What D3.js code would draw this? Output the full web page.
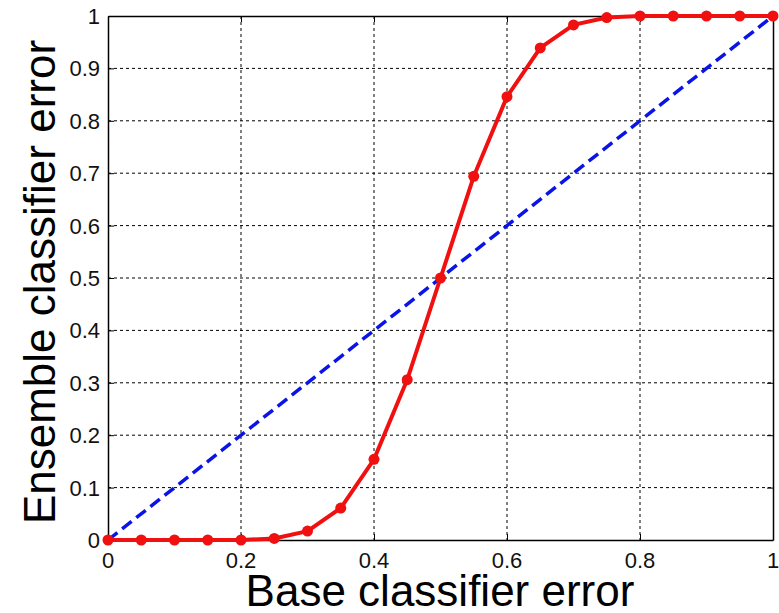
<!DOCTYPE html>
<html><head><meta charset="utf-8">
<script src="https://cdn.jsdelivr.net/npm/d3@7"></script>
<style>body{margin:0;background:#fff}svg{display:block}.lbl{font-family:"Liberation Sans",Arial,sans-serif;font-size:22px;fill:#111}</style>
</head><body>
<svg id="c" width="779" height="613"></svg>
<script>
const baseError = [0,0.05,0.1,0.15,0.2,0.25,0.3,0.35,0.4,0.45,0.5,0.55,0.6,0.65,0.7,0.75,0.8,0.85,0.9,0.95,1];
const ensembleError = [0,0,0,0,0,0.003,0.017,0.061,0.154,0.306,0.5,0.694,0.846,0.939,0.983,0.997,1,1,1,1,1];
const diagonal = [0,1];
const xTicks = [0,0.2,0.4,0.6,0.8,1];
const yTicks = [0,0.1,0.2,0.3,0.4,0.5,0.6,0.7,0.8,0.9,1];
const xTickLabels = ["0","0.2","0.4","0.6","0.8","1"];
const yTickLabels = ["0","0.1","0.2","0.3","0.4","0.5","0.6","0.7","0.8","0.9","1"];

const L=108,R=773,T=16,B=540;
const svg=d3.select("#c");
const x=d3.scaleLinear().domain([0,1]).range([L,R]);
const y=d3.scaleLinear().domain([0,1]).range([B,T]);
const font="Liberation Sans, Arial, sans-serif";

// grid
svg.append("g").selectAll("line").data(xTicks.slice(1,-1)).join("line")
  .attr("x1",d=>x(d)).attr("x2",d=>x(d)).attr("y1",T).attr("y2",B)
  .attr("stroke","#000").attr("stroke-width",1).attr("stroke-dasharray","3,3");
svg.append("g").selectAll("line").data(yTicks.slice(1,-1)).join("line")
  .attr("y1",d=>y(d)).attr("y2",d=>y(d)).attr("x1",L).attr("x2",R)
  .attr("stroke","#000").attr("stroke-width",1).attr("stroke-dasharray","3,3");

// axes with inward ticks (labels added separately)
svg.append("g").attr("transform",`translate(0,${B})`)
  .call(d3.axisBottom(x).tickValues(xTicks).tickFormat("").tickSizeInner(-6).tickSizeOuter(0));
svg.append("g").attr("transform",`translate(${L},0)`)
  .call(d3.axisLeft(y).tickValues(yTicks).tickFormat("").tickSizeInner(-6).tickSizeOuter(0));
svg.append("g").attr("transform",`translate(0,${T})`)
  .call(d3.axisTop(x).tickValues(xTicks).tickFormat("").tickSizeInner(-6).tickSizeOuter(0));
svg.append("g").attr("transform",`translate(${R},0)`)
  .call(d3.axisRight(y).tickValues(yTicks).tickFormat("").tickSizeInner(-6).tickSizeOuter(0));
svg.selectAll(".domain").attr("stroke","#000").attr("stroke-width",1.5);
svg.selectAll(".tick line").attr("stroke","#000");

svg.append("g").selectAll("text").data(xTicks).join("text").attr("class","lbl")
  .attr("x",d=>x(d)).attr("y",B+28).attr("text-anchor","middle")
  .text((d,i)=>xTickLabels[i]);
svg.append("g").selectAll("text").data(yTicks).join("text").attr("class","lbl")
  .attr("x",L-8).attr("y",d=>y(d)+8).attr("text-anchor","end")
  .text((d,i)=>yTickLabels[i]);

// diagonal
svg.append("path").datum(diagonal)
  .attr("d",d3.line().x(d=>x(d)).y(d=>y(d)))
  .attr("fill","none").attr("stroke","#0a14e6").attr("stroke-width",3.5).attr("stroke-dasharray","12,6");

// red curve
const pts=baseError.map((b,i)=>[b,ensembleError[i]]);
svg.append("path").datum(pts)
  .attr("d",d3.line().x(d=>x(d[0])).y(d=>y(d[1])))
  .attr("fill","none").attr("stroke","#f01010").attr("stroke-width",4);
svg.append("g").selectAll("circle").data(pts).join("circle")
  .attr("cx",d=>x(d[0])).attr("cy",d=>y(d[1])).attr("r",5.5).attr("fill","#f01010");

// titles
svg.append("text").attr("x",440).attr("y",606).attr("text-anchor","middle")
  .attr("font-family",font).attr("font-size",44).attr("fill","#000").text("Base classifier error");
svg.append("text").attr("transform","translate(55,282) rotate(-90)").attr("text-anchor","middle")
  .attr("font-family",font).attr("font-size",44).attr("fill","#000").text("Ensemble classifier error");
</script>
</body></html>
